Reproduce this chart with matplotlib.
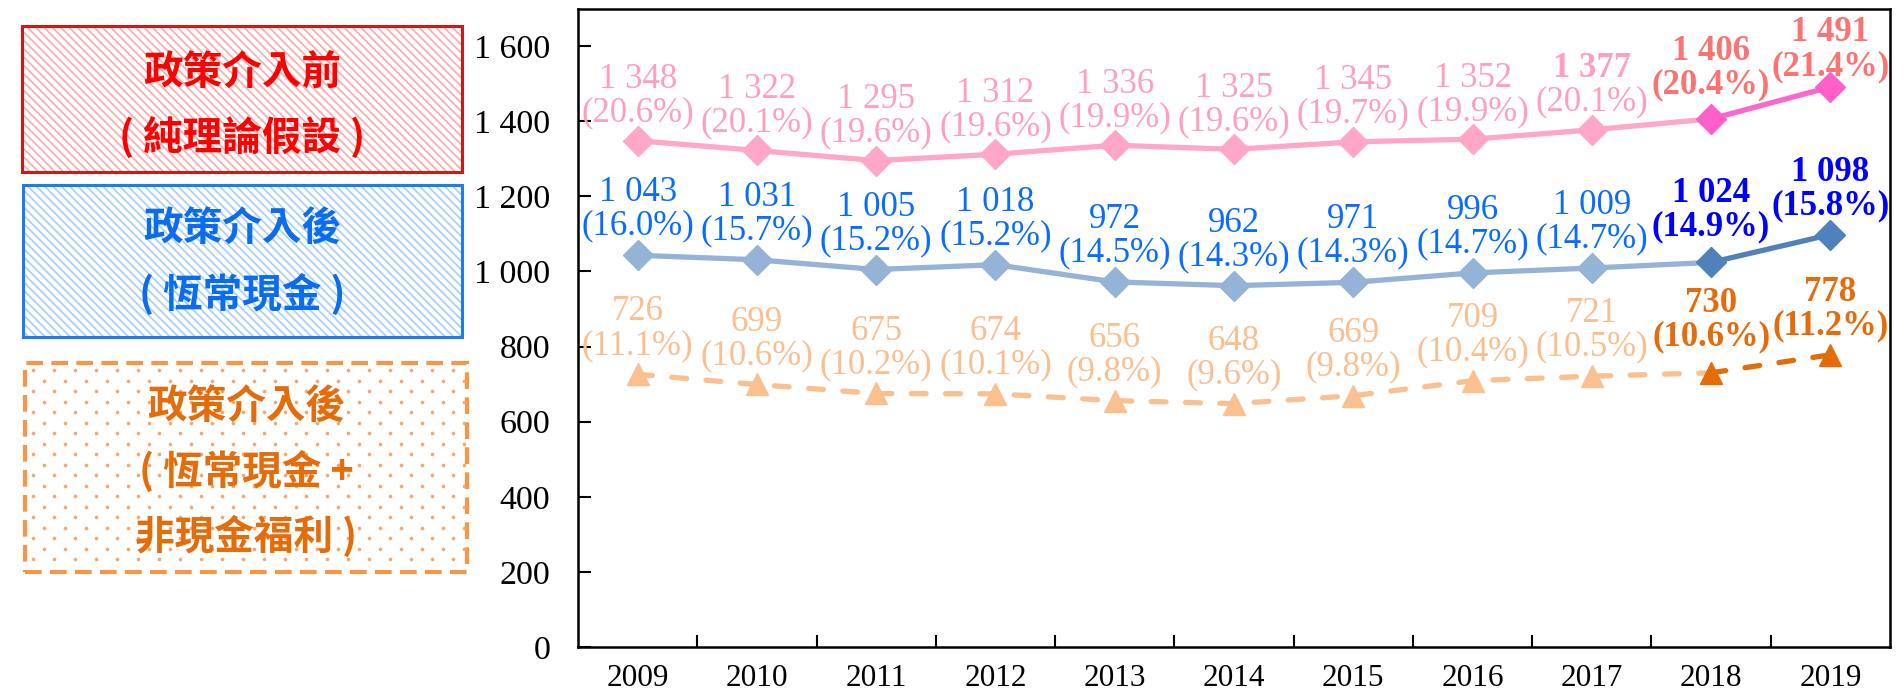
import matplotlib
matplotlib.use("Agg")
import matplotlib.pyplot as plt
from matplotlib.patches import Rectangle
from matplotlib.lines import Line2D

# ---------------- data ----------------
years = ["2009", "2010", "2011", "2012", "2013", "2014", "2015", "2016", "2017", "2018", "2019"]
before_vals = [1348, 1322, 1295, 1312, 1336, 1325, 1345, 1352, 1377, 1406, 1491]
before_pct = [20.6, 20.1, 19.6, 19.6, 19.9, 19.6, 19.7, 19.9, 20.1, 20.4, 21.4]
cash_vals = [1043, 1031, 1005, 1018, 972, 962, 971, 996, 1009, 1024, 1098]
cash_pct = [16.0, 15.7, 15.2, 15.2, 14.5, 14.3, 14.3, 14.7, 14.7, 14.9, 15.8]
all_vals = [726, 699, 675, 674, 656, 648, 669, 709, 721, 730, 778]
all_pct = [11.1, 10.6, 10.2, 10.1, 9.8, 9.6, 9.8, 10.4, 10.5, 10.6, 11.2]
y_ticks = [0, 200, 400, 600, 800, 1000, 1200, 1400, 1600]
legend_before = "政策介入前\n( 純理論假設 )"
legend_cash = "政策介入後\n( 恆常現金 )"
legend_all = "政策介入後\n( 恆常現金 +\n非現金福利 )"

W, H = 1903, 695
fig = plt.figure(figsize=(W / 100, H / 100), dpi=100)
plt.rcParams['hatch.linewidth'] = 1.3
serif = ['Liberation Serif', 'DejaVu Serif']
cjk = ['Noto Sans CJK TC', 'DejaVu Sans']

ax = fig.add_axes([578 / W, 1 - 647 / H, (1890 - 578) / W, (647 - 8.5) / H])
x = list(range(len(years)))
n = len(years)
hl = n - 2  # first highlighted point (2018)
LFS = 25
LW = 3.8
GAP = 24
# extra label lift (points) per year (style only)
lift_default = [0, 0, 0, 0, 0, 0, 0, 0, 0, 5, 0]
lift_before = [0, 0, 0, 0, 0, 0, 0, 0, 0, 5, -5]


def fmt(v):
    return f"{v:,}".replace(",", " ")


def draw_series(vals, pcts, light, dark, mlight, mdark, lab_light, lab_dark, marker, ms, ls, bold_from, off, lift):
    ax.plot(x[:hl + 1], vals[:hl + 1], color=light, lw=LW, ls=ls, zorder=2,
            solid_capstyle='butt', dash_capstyle='round')
    ax.plot(x[hl:], vals[hl:], color=dark, lw=LW, ls=ls, zorder=2,
            solid_capstyle='butt', dash_capstyle='round')
    for i in range(n):
        c = mdark if i >= hl else mlight
        ax.plot(x[i], vals[i], marker=marker, ms=ms, color=c, mec=c, zorder=3, ls='none')
    for i in range(n):
        strong = i >= hl
        col = lab_dark if strong else lab_light
        wv = 'bold' if i >= bold_from else 'normal'
        wp = 'bold' if strong else 'normal'
        o = off + lift[i]
        ax.annotate(f"({pcts[i]:.1f}%)", (x[i], vals[i]), xytext=(0, o), textcoords='offset points',
                    ha='center', va='bottom', fontsize=LFS, color=col, family=serif, weight=wp,
                    zorder=4)
        ax.annotate(fmt(vals[i]), (x[i], vals[i]), xytext=(0, o + GAP), textcoords='offset points',
                    ha='center', va='bottom', fontsize=LFS, color=col, family=serif, weight=wv,
                    zorder=4)


draw_series(before_vals, before_pct, '#ffa6c9', '#ff66cc', '#ffa6c9', '#ff5fc8',
            '#ff9fc0', '#fb7474', 'D', 15, '-', n - 3, 8, lift_before)
draw_series(cash_vals, cash_pct, '#95b3d7', '#4f81bd', '#95b3d7', '#4f81bd',
            '#0a6cff', '#0000ff', 'D', 15, '-', n - 2, 9, lift_default)
draw_series(all_vals, all_pct, '#fac090', '#e46c0a', '#fac090', '#e46c0a',
            '#fabf8f', '#e46c0a', '^', 16, (0, (2.8, 3.7)), n - 2, 9, lift_default)

ax.set_xlim(-0.5, n - 0.5)
ax.set_ylim(0, 1700)
ax.set_yticks(y_ticks)
ax.set_yticklabels([fmt(v) for v in y_ticks], family=serif, fontsize=24.5)
ax.set_xticks(x)
ax.set_xticklabels(years, family=serif, fontsize=22.5)
ax.set_xticks([i + 0.5 for i in range(n - 1)], minor=True)
ax.tick_params(axis='x', which='major', length=0, pad=12)
ax.tick_params(axis='x', which='minor', direction='in', length=9, width=1.5)
ax.tick_params(axis='y', direction='in', length=9, width=1.5, pad=20)
for s in ax.spines.values():
    s.set_linewidth(1.8)
    s.set_color('black')


def fig_rect(x0, y0, x1, y1, **kw):
    r = Rectangle((x0 / W, 1 - y1 / H), (x1 - x0) / W, (y1 - y0) / H, transform=fig.transFigure, **kw)
    fig.add_artist(r)


# legend box 1
fig_rect(22, 26, 462, 172, facecolor='white', edgecolor='#f7b0b0', hatch='\\\\\\\\', lw=0)
fig_rect(22, 26, 462, 172, facecolor='none', edgecolor='#d01818', lw=2.2)
fig.text(242 / W, 1 - 106 / H, legend_before, ha='center', va='center', fontsize=28.5,
         family=cjk, weight='bold', color='#ff0000', linespacing=1.75)
# legend box 2
fig_rect(23, 185, 462, 337, facecolor='white', edgecolor='#aed0f5', hatch='\\\\\\\\', lw=0)
fig_rect(23, 185, 462, 337, facecolor='none', edgecolor='#1f7bf2', lw=2.2)
fig.text(242 / W, 1 - 262 / H, legend_cash, ha='center', va='center', fontsize=28.5,
         family=cjk, weight='bold', color='#0a6cf0', linespacing=1.75)
# legend box 3 (dotted fill)
bx0, by0, bx1, by1 = 25, 363, 467, 572
fig_rect(bx0, by0, bx1, by1, facecolor='white', edgecolor='none', lw=0)
dx, dy = 21.0, 10.5
row = 0
yy = by0 + 7
while yy < by1 - 3:
    xx = bx0 + 8 + (dx / 2 if row % 2 else 0)
    xs = []
    while xx < bx1 - 3:
        xs.append(xx / W)
        xx += dx
    fig.add_artist(Line2D(xs, [1 - yy / H] * len(xs), transform=fig.transFigure, ls='none',
                          marker='o', ms=2.6, color='#f9a46a', mec='none'))
    yy += dy
    row += 1
fig_rect(bx0, by0, bx1, by1, facecolor='none', edgecolor='#f79646', lw=3, ls=(0, (4, 2)))
fig.text(246 / W, 1 - 472 / H, legend_all, ha='center', va='center', fontsize=28.5,
         family=cjk, weight='bold', color='#e46c0a', linespacing=1.7)

fig.savefig('out.png', dpi=100)
